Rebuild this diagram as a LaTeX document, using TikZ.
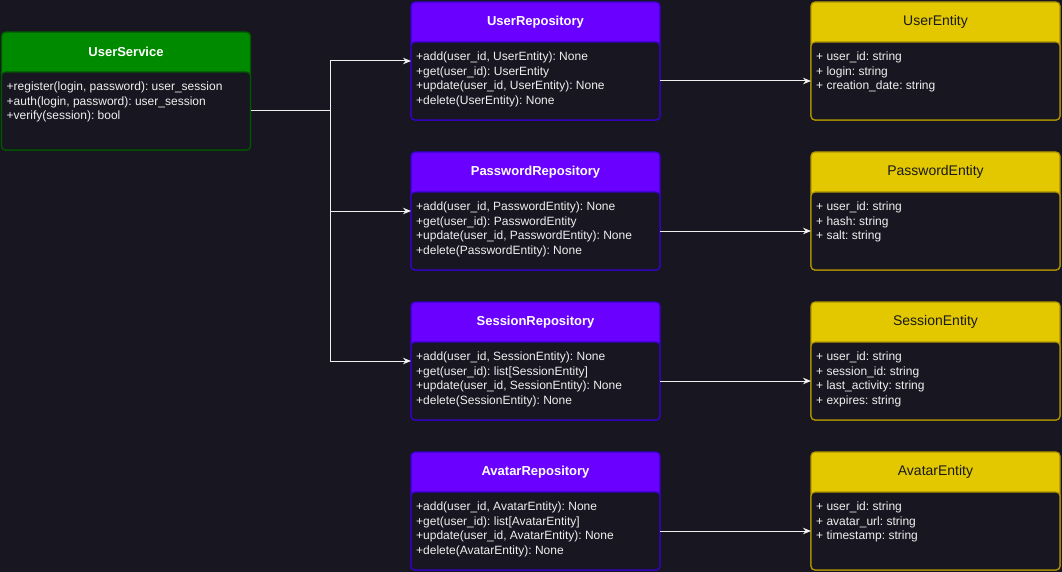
\documentclass[tikz,border=0pt]{standalone}
\usepackage{fontspec}
\setmainfont{Liberation Sans}
\frenchspacing
\definecolor{bgc}{RGB}{24, 22, 32}
\definecolor{green1}{RGB}{0, 138, 0}
\definecolor{green2}{RGB}{0, 87, 0}
\definecolor{violet1}{RGB}{106, 0, 255}
\definecolor{violet2}{RGB}{55, 0, 204}
\definecolor{yellow1}{RGB}{227, 200, 0}
\definecolor{yellow2}{RGB}{176, 149, 0}
\definecolor{linec}{RGB}{240, 240, 240}
\usetikzlibrary{arrows.meta, positioning, calc}

% one class box: name, top-left corner, header fill, line colour, title style, title, members
\newcommand{\umlclass}[7]{%
  \node[clsbox, fill=#3, draw=#4] (#1) at (#2) {};
  \node[clshead, #5] (#1-t) at (#1.north) {#6};
  \node[clsbody, draw=#4] (#1-b) at (#1.south) {};
  \node[clsmembers] (#1-m) at ([xshift=5pt, yshift=-10pt]#1-b.north west) {#7};
}

\begin{document}
\begin{tikzpicture}[x=1pt, y=-1pt,
    clsbox/.style={rectangle, rounded corners=4pt, line width=1.2pt, minimum width=249pt,
      minimum height=118pt, inner sep=0pt, outer sep=0pt, anchor=north west},
    clshead/.style={anchor=north, minimum height=40pt, inner sep=0pt, text=white,
      font=\fontsize{13}{15}\selectfont\bfseries},
    enthead/.style={text=black!90, font=\fontsize{14}{16}\selectfont},
    clsbody/.style={anchor=south, rectangle, rounded corners=4pt, fill=bgc, line width=1.2pt,
      minimum width=249pt, minimum height=78pt, inner sep=0pt, outer sep=0pt},
    clsmembers/.style={anchor=north west, inner sep=0pt, text=white!94!black, align=left,
      font=\fontsize{12}{14.4}\selectfont},
    arr/.style={draw=linec, line width=1pt, -{Stealth[length=8pt, width=6.5pt]}},
    conn/.style={draw=linec, line width=1pt}]

  \fill[bgc] (0,0) rectangle (1062,572);
  \useasboundingbox (0,0) rectangle (1062,572);

  % service
  \umlclass{usersvc}{1.5,32}{green1}{green2}{}{UserService}{%
    +register(login, password): user\_session\\
    +auth(login, password): user\_session\\
    +verify(session): bool}

  % repositories
  \umlclass{userrepo}{411,2}{violet1}{violet2}{}{UserRepository}{%
    +add(user\_id, UserEntity): None\\
    +get(user\_id): UserEntity\\
    +update(user\_id, UserEntity): None\\
    +delete(UserEntity): None}
  \umlclass{pwdrepo}{411,152}{violet1}{violet2}{}{PasswordRepository}{%
    +add(user\_id, PasswordEntity): None\\
    +get(user\_id): PasswordEntity\\
    +update(user\_id, PasswordEntity): None\\
    +delete(PasswordEntity): None}
  \umlclass{sessrepo}{411,302}{violet1}{violet2}{}{SessionRepository}{%
    +add(user\_id, SessionEntity): None\\
    +get(user\_id): list[SessionEntity]\\
    +update(user\_id, SessionEntity): None\\
    +delete(SessionEntity): None}
  \umlclass{avarepo}{411,452}{violet1}{violet2}{}{AvatarRepository}{%
    +add(user\_id, AvatarEntity): None\\
    +get(user\_id): list[AvatarEntity]\\
    +update(user\_id, AvatarEntity): None\\
    +delete(AvatarEntity): None}

  % entities
  \umlclass{userent}{811,2}{yellow1}{yellow2}{enthead}{UserEntity}{%
    + user\_id: string\\
    + login: string\\
    + creation\_date: string}
  \umlclass{pwdent}{811,152}{yellow1}{yellow2}{enthead}{PasswordEntity}{%
    + user\_id: string\\
    + hash: string\\
    + salt: string}
  \umlclass{sessent}{811,302}{yellow1}{yellow2}{enthead}{SessionEntity}{%
    + user\_id: string\\
    + session\_id: string\\
    + last\_activity: string\\
    + expires: string}
  \umlclass{avaent}{811,452}{yellow1}{yellow2}{enthead}{AvatarEntity}{%
    + user\_id: string\\
    + avatar\_url: string\\
    + timestamp: string}

  % service -> repositories
  \coordinate (hub) at ([xshift=80pt]usersvc-b.east);
  \draw[conn] (usersvc-b.east) -- (hub);
  \draw[arr] (hub) |- (userrepo.west);
  \draw[arr] (hub) |- (pwdrepo.west);
  \draw[arr] (hub) |- (sessrepo.west);

  % repositories -> entities
  \draw[arr] (userrepo-b.east) -- (userent-b.west);
  \draw[arr] (pwdrepo-b.east) -- (pwdent-b.west);
  \draw[arr] (sessrepo-b.east) -- (sessent-b.west);
  \draw[arr] (avarepo-b.east) -- (avaent-b.west);
\end{tikzpicture}
\end{document}
